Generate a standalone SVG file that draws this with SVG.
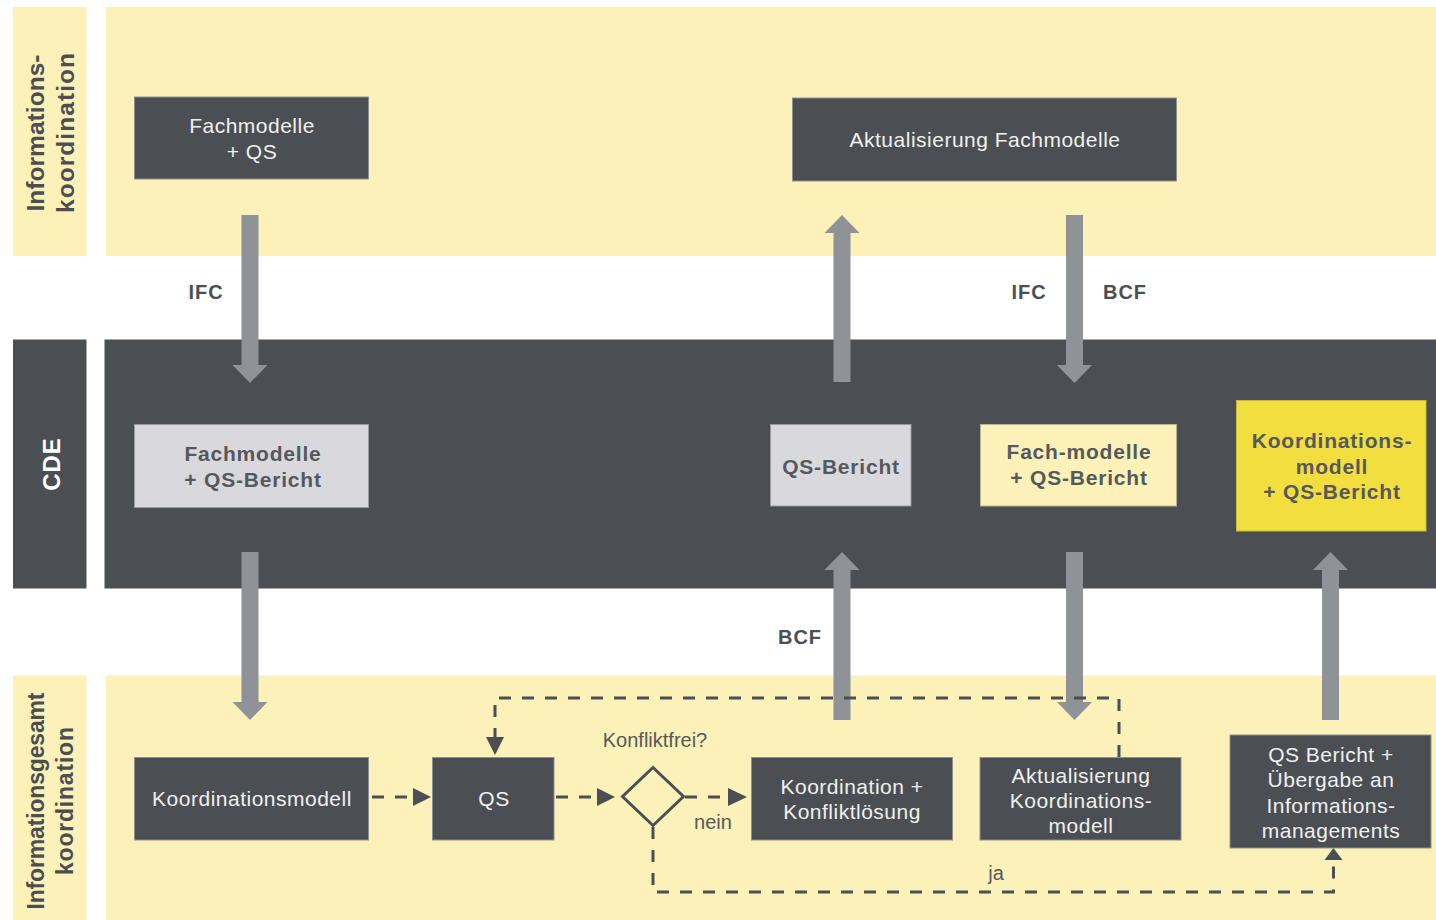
<svg xmlns="http://www.w3.org/2000/svg" width="1436" height="920" viewBox="0 0 1436 920">
<style>
.band{fill:#FBF1B9}
.cde{fill:#4B4F53}
.dark{fill:#4B4F53;stroke:#8d8f92;stroke-width:1}
.lgray{fill:#D9D8DD;stroke:#9a9a9e;stroke-width:1}
.lyel{fill:#FBF1B9;stroke:#b8b290;stroke-width:1}
.yel{fill:#F2DE3F;stroke:#c9b83a;stroke-width:1}
.wt{font-family:"Liberation Sans",Arial,sans-serif;font-size:21px;fill:#F0F0F0;text-anchor:middle;letter-spacing:0.5px}
.bt{font-family:"Liberation Sans",Arial,sans-serif;font-size:21px;font-weight:bold;fill:#55595D;text-anchor:middle;letter-spacing:0.8px}
.lbl{font-family:"Liberation Sans",Arial,sans-serif;font-size:20px;font-weight:bold;fill:#4B4F53;text-anchor:middle;letter-spacing:1px}
.side{font-family:"Liberation Sans",Arial,sans-serif;font-weight:bold;fill:#4B4F53;text-anchor:middle}
.rt{font-family:"Liberation Sans",Arial,sans-serif;font-size:20px;fill:#55595D;text-anchor:middle}
.arrow{fill:#8F9297}
.dash{fill:none;stroke:#4B4F53;stroke-width:3;stroke-dasharray:12 11}
.head{fill:#4B4F53}
</style>

<g id="lanes">
  <rect class="band" x="13" y="7" width="73.5" height="249"/>
  <rect class="band" x="106" y="7" width="1330" height="249"/>
  <rect class="cde" x="13" y="339.5" width="73.5" height="249"/>
  <rect class="cde" x="104.5" y="339.5" width="1331.5" height="249"/>
  <rect class="band" x="13" y="675.5" width="73.5" height="244.5"/>
  <rect class="band" x="106" y="675.5" width="1330" height="244.5"/>
  <g transform="translate(0,133) rotate(-90)">
    <text class="side" x="0" y="44" font-size="24.5" textLength="157" lengthAdjust="spacing">Informations-</text>
    <text class="side" x="0" y="74" font-size="24.5" textLength="160" lengthAdjust="spacing">koordination</text>
  </g>
  <g transform="translate(0,464) rotate(-90)">
    <text class="side" x="0" y="60" font-size="24" style="fill:#FFFFFF;letter-spacing:1px">CDE</text>
  </g>
  <g transform="translate(0,801) rotate(-90)">
    <text class="side" x="0" y="44" font-size="23" textLength="217" lengthAdjust="spacing">Informationsgesamt</text>
    <text class="side" x="0" y="73" font-size="23" textLength="148" lengthAdjust="spacing">koordination</text>
  </g>
</g>

<g id="connectors">
  <polygon class="arrow" points="241.5,215 258.5,215 258.5,365 267.5,365 250,383 232.5,365 241.5,365"/>
  <polygon class="arrow" points="833.5,382 850.5,382 850.5,233 859.5,233 842,215 824.5,233 833.5,233"/>
  <polygon class="arrow" points="1066,215 1083,215 1083,365 1092,365 1074.5,383 1057,365 1066,365"/>
  <polygon class="arrow" points="241.5,552 258.5,552 258.5,702 267.5,702 250,720 232.5,702 241.5,702"/>
  <polygon class="arrow" points="833.5,720 850.5,720 850.5,570 859.5,570 842,552 824.5,570 833.5,570"/>
  <polygon class="arrow" points="1066,552 1083,552 1083,702 1092,702 1074.5,720 1057,702 1066,702"/>
  <polygon class="arrow" points="1322,720 1339,720 1339,570 1348,570 1330.5,552 1313,570 1322,570"/>
  <text class="lbl" x="206" y="299">IFC</text>
  <text class="lbl" x="1029" y="299">IFC</text>
  <text class="lbl" x="1125" y="299">BCF</text>
  <text class="lbl" x="800" y="644">BCF</text>

  <line class="dash" x1="372" y1="797" x2="413" y2="797"/>
  <polygon class="head" points="413,788 431,797 413,806"/>
  <line class="dash" x1="556" y1="797" x2="597" y2="797"/>
  <polygon class="head" points="597,788 615,797 597,806"/>
  <line class="dash" x1="685" y1="797" x2="728" y2="797"/>
  <polygon class="head" points="728,788 747,797 728,806"/>
  <polyline class="dash" points="1119,757 1119,698 495,698 495,737"/>
  <polygon class="head" points="486,737 504,737 495,755"/>
  <polyline class="dash" points="653,827 653,892 1333.5,892 1333.5,860"/>
  <polygon class="head" points="1324.5,860 1342.5,860 1333.5,848"/>
  <text class="rt" x="655" y="747">Konfliktfrei?</text>
  <text class="rt" x="713" y="829">nein</text>
  <text class="rt" x="996" y="880">ja</text>
</g>

<g id="n-fachmodelle-qs">
  <rect class="dark" x="134.5" y="97" width="234" height="82"/>
  <text class="wt" x="252" y="133">Fachmodelle</text>
  <text class="wt" x="252" y="159">+ QS</text>
</g>
<g id="n-aktualisierung-fachmodelle">
  <rect class="dark" x="792.5" y="98" width="384" height="83"/>
  <text class="wt" x="985" y="147">Aktualisierung Fachmodelle</text>
</g>
<g id="n-cde-fachmodelle">
  <rect class="lgray" x="134.5" y="424.5" width="234" height="83"/>
  <text class="bt" x="253" y="461">Fachmodelle</text>
  <text class="bt" x="253" y="487">+ QS-Bericht</text>
</g>
<g id="n-cde-qsbericht">
  <rect class="lgray" x="770.5" y="424.5" width="140.5" height="81.5"/>
  <text class="bt" x="841" y="474">QS-Bericht</text>
</g>
<g id="n-cde-fach-modelle">
  <rect class="lyel" x="980.5" y="424.5" width="196" height="81.5"/>
  <text class="bt" x="1079" y="459">Fach-modelle</text>
  <text class="bt" x="1079" y="485">+ QS-Bericht</text>
</g>
<g id="n-cde-koordinationsmodell">
  <rect class="yel" x="1236.5" y="400.5" width="189.5" height="130.5"/>
  <text class="bt" x="1332" y="448">Koordinations-</text>
  <text class="bt" x="1332" y="474">modell</text>
  <text class="bt" x="1332" y="499">+ QS-Bericht</text>
</g>
<g id="n-koordinationsmodell">
  <rect class="dark" x="134.5" y="757.5" width="234" height="82.5"/>
  <text class="wt" x="252" y="806">Koordinationsmodell</text>
</g>
<g id="n-qs">
  <rect class="dark" x="432.5" y="757.5" width="121.5" height="82.5"/>
  <text class="wt" x="494" y="806">QS</text>
</g>
<g id="n-konfliktfrei">
  <polygon points="653,767.5 683.5,796.5 653,825.5 622.5,796.5" fill="none" stroke="#4B4F53" stroke-width="3"/>
</g>
<g id="n-koordination">
  <rect class="dark" x="751.5" y="757.5" width="201" height="82.5"/>
  <text class="wt" x="852" y="794">Koordination +</text>
  <text class="wt" x="852" y="819">Konfliktlösung</text>
</g>
<g id="n-aktualisierung-koordinationsmodell">
  <rect class="dark" x="980" y="757.5" width="201" height="82.5"/>
  <text class="wt" x="1081" y="783">Aktualisierung</text>
  <text class="wt" x="1081" y="808">Koordinations-</text>
  <text class="wt" x="1081" y="833">modell</text>
</g>
<g id="n-qs-bericht-uebergabe">
  <rect class="dark" x="1230" y="735" width="201" height="113"/>
  <text class="wt" x="1331" y="762">QS Bericht +</text>
  <text class="wt" x="1331" y="787">Übergabe an</text>
  <text class="wt" x="1331" y="813">Informations-</text>
  <text class="wt" x="1331" y="838">managements</text>
</g>
</svg>
